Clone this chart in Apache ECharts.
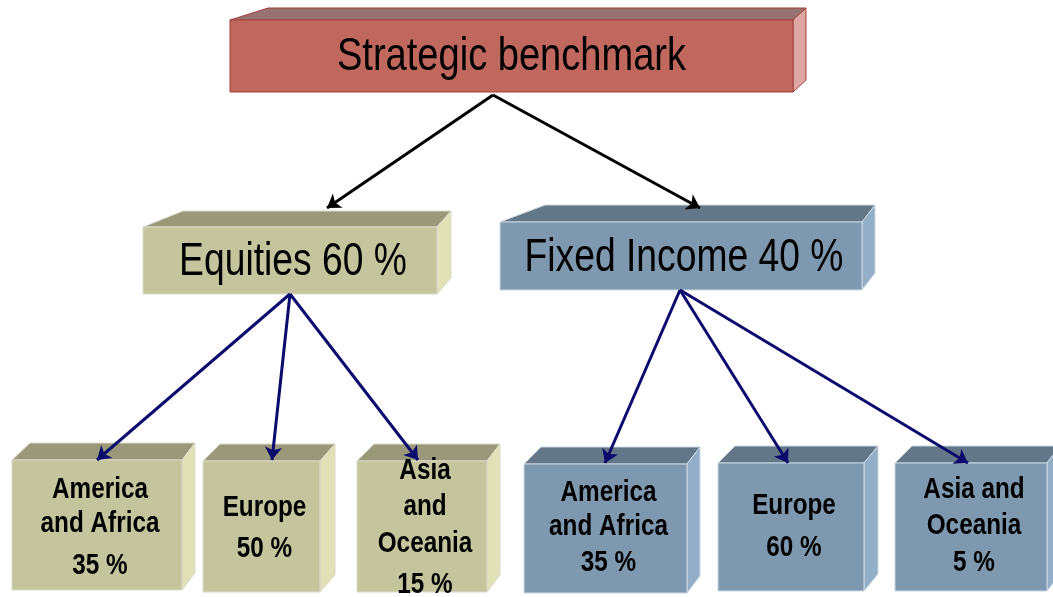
<!DOCTYPE html>
<html>
<head>
<meta charset="utf-8">
<script src="https://cdn.jsdelivr.net/npm/echarts@6/dist/echarts.min.js"></script>
<style>
html, body { margin: 0; background: #fff; }
#main { width: 1053px; height: 597px; }
</style>
</head>
<body>
<div id="main"></div>
<script>
// allocation tree
const nodeNames = ['Strategic benchmark', 'Equities', 'Fixed Income',
    'America and Africa', 'Europe', 'Asia and Oceania',
    'America and Africa', 'Europe', 'Asia and Oceania'];
const nodeShares = [null, 60, 40, 35, 50, 15, 35, 60, 5];
const nodeParents = [-1, 0, 0, 1, 1, 1, 2, 2, 2];
// text as it is wrapped in the boxes
const nodeLines = [
    ['Strategic benchmark'],
    ['Equities 60 %'],
    ['Fixed Income 40 %'],
    ['America', 'and Africa', '35 %'],
    ['Europe', '50 %'],
    ['Asia', 'and', 'Oceania', '15 %'],
    ['America', 'and Africa', '35 %'],
    ['Europe', '60 %'],
    ['Asia and', 'Oceania', '5 %']
];

// layout (pixel space of the hidden axes): front face x0,y0,x1,y1, depth, left skew, right skew
const boxLayout = [
    [230, 20, 793, 92, 12, 38, 13],
    [143, 227, 437, 294, 16, 40, 14],
    [500, 222, 862, 290, 17, 45, 13],
    [12, 460, 182, 590, 17, 18, 13],
    [203, 461, 320, 592, 17, 17, 15],
    [357, 461, 487, 592, 17, 17, 13],
    [524, 464, 687, 593, 17, 17, 13],
    [718, 463, 864, 591, 17, 17, 14],
    [895, 463, 1047, 591, 17, 17, 13]
];
const textY = [[57], [262], [258], [490, 524, 566], [508, 549], [471, 507, 544, 585],
    [493, 527, 563], [506, 548], [490, 526, 563]];
const outAnchor = [[493, 95], [290, 294], [680, 290]];
const inAnchor = [null, [327, 208], [700, 208], [97, 460], [272, 460], [418, 460],
    [605, 463], [788, 463], [968, 463]];

const palettes = {
    red:   { front: '#C0675E', top: '#977370', side: '#DFA7A3', stroke: '#A3423B', arrow: '#000' },
    olive: { front: '#C4C49D', top: '#99997A', side: '#E1E1B7', stroke: '#DADACA', arrow: '#0B0B6E' },
    blue:  { front: '#7E99AF', top: '#637789', side: '#92AFC7', stroke: '#CAD7E3', arrow: '#0B0B6E' }
};
function paletteOf(i) {
    if (i === 0) return palettes.red;
    let root = i;
    while (nodeParents[root] > 0) root = nodeParents[root];
    return root === 1 ? palettes.olive : palettes.blue;
}

const chart = echarts.init(document.getElementById('main'));

const edges = [];
nodeParents.forEach((p, i) => {
    if (p < 0) return;
    edges.push({
        coords: [outAnchor[p], inAnchor[i]],
        lineStyle: { color: paletteOf(p).arrow }
    });
});

// no narrow font installed, so squeeze the regular one
const narrow = 0.81;

function renderBox(params, api) {
    const i = api.value(2);
    const [x0, y0, x1, y1, d, dl, dr] = boxLayout[i];
    const pal = paletteOf(i);
    const c = (x, y) => api.coord([x, y]);
    const p00 = c(x0, y0), p10 = c(x1, y0), p11 = c(x1, y1), p01 = c(x0, y1);
    const bl = c(x0 + dl, y0 - d), br = c(x1 + dr, y0 - d), br2 = c(x1 + dr, y1 - d);
    const level = i === 0 ? 0 : (nodeParents[i] === 0 ? 1 : 2);
    const fontSize = level === 0 ? 47 : (level === 1 ? 46 : 30);
    const children = [
        { type: 'polygon', shape: { points: [p00, p10, br, bl] },
          style: { fill: pal.top, stroke: pal.stroke, lineWidth: 1 } },
        { type: 'polygon', shape: { points: [p10, br, br2, p11] },
          style: { fill: pal.side, stroke: pal.stroke, lineWidth: 1 } },
        { type: 'polygon', shape: { points: [p00, p10, p11, p01] },
          style: { fill: pal.front, stroke: pal.stroke, lineWidth: 1 } }
    ];
    const cx = (p00[0] + p10[0]) / 2 + (level === 0 ? 0 : 3);
    nodeLines[i].forEach((t, k) => {
        children.push({
            type: 'text',
            x: cx,
            y: c(0, textY[i][k])[1],
            scaleX: narrow,
            style: {
                text: t, x: 0, y: 0,
                align: 'center', verticalAlign: 'middle',
                fontFamily: '"Liberation Sans", Arial, sans-serif',
                fontSize: fontSize, fontWeight: level === 2 ? 'bold' : 'normal',
                fill: '#000'
            }
        });
    });
    return { type: 'group', children: children };
}

chart.setOption({
    animation: false,
    grid: { left: 0, right: 0, top: 0, bottom: 0 },
    xAxis: { type: 'value', min: 0, max: 1053, show: false },
    yAxis: { type: 'value', min: 0, max: 597, inverse: true, show: false },
    series: [
        {
            type: 'custom',
            renderItem: renderBox,
            data: nodeNames.map((n, i) => ({ name: n, value: [boxLayout[i][0], boxLayout[i][1], i, nodeShares[i]] })),
            z: 1
        },
        {
            type: 'lines',
            coordinateSystem: 'cartesian2d',
            symbol: ['none', 'arrow'],
            symbolSize: 13,
            lineStyle: { width: 3, opacity: 1 },
            data: edges,
            z: 5
        }
    ]
});
</script>
</body>
</html>
